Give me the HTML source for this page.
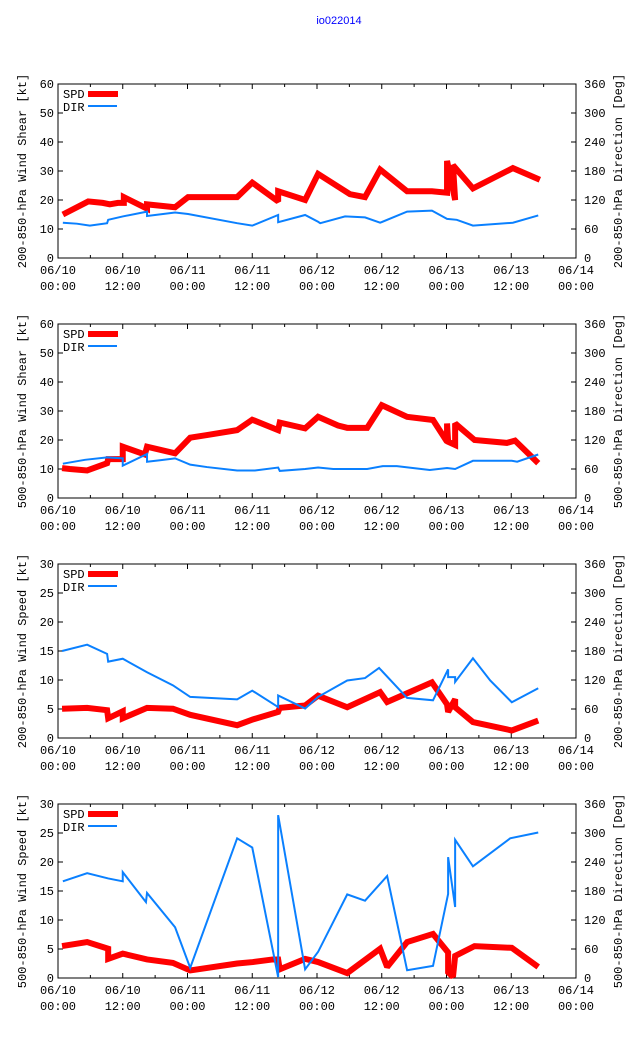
<!DOCTYPE html>
<html><head><meta charset="utf-8"><style>
html,body{margin:0;padding:0;background:#fff;}
svg{display:block;font-family:"Liberation Mono","DejaVu Sans Mono",monospace;}
</style></head><body>
<svg id="c" width="640" height="1060" viewBox="0 0 640 1060">
<text x="339" y="24" fill="#0000ff" font-size="11" font-family="Liberation Sans, sans-serif" text-anchor="middle">io022014</text>
</svg>
<script>
// hours since 06/10 00:00
const p1SpdT=[0.9,5.6,8.3,9.6,11.1,12.2,12.2,16.5,16.5,21.7,24.1,33.2,36.0,40.8,40.8,45.8,48.2,54.1,56.9,59.7,64.7,67.1,69.3,72.1,72.1,73.6,73.2,76.9,84.3,89.3];
const p1SpdV=[15,19.5,19,18.5,19,19,21,17,18.5,17.5,21,21,26,19.5,23,20,29,22,21,30.5,23,23,23,22.5,33.5,20,32,24,31,27];
const p1DirT=[0.9,3.5,5.9,9.1,9.3,12.0,16.5,16.5,21.7,24.1,33.2,36.0,40.8,40.8,45.8,48.2,48.6,53.2,56.9,59.7,64.7,69.3,72.1,73.9,76.9,84.3,89.0];
const p1DirV=[73,71,67,72,79,86,96,87,94,91,72,67,89,74,89,75,72,86,84,73,96,98,81,79,67,73,88];

const p2SpdT=[0.75,2.2,5.4,9.1,9.3,12.0,12.0,16.1,16.5,21.7,24.5,27.6,33.2,36.0,40.8,41.1,45.8,48.2,51.9,53.6,57.3,60.0,64.7,69.5,72.1,72.1,72.3,73.6,73.6,77.2,83.2,84.7,89.0];
const p2SpdV=[10.3,10,9.5,12,13.4,13.4,17.7,15,17.7,15.4,20.8,21.7,23.4,27,23.4,26,24,28,25,24.2,24.2,32,28,26.9,19.4,25.7,19.4,18.3,25.7,20,19,19.8,12];
const p2DirT=[0.9,5.0,9.1,12.0,12.0,16.5,16.5,18.9,21.7,24.5,27.6,33.2,36.5,40.8,41.1,45.8,48.2,51.0,57.3,60.2,62.8,68.9,72.1,73.6,76.9,84.1,85.1,89.0];
const p2DirV=[71,79,84,82,67,91,75,78,82,69,64,57,57,63,56,60,63,60,60,66,66,58,62,60,77,77,75,90];

const p3SpdT=[0.75,5.4,9.1,9.3,12.0,12.0,16.5,21.3,24.5,33.2,36.1,40.8,41.1,45.8,48.2,53.6,59.7,61.0,69.3,72.1,72.3,73.6,73.6,76.9,84.1,89.0];
const p3SpdV=[5.05,5.2,4.8,3.4,4.6,3.4,5.2,5.05,4.0,2.2,3.2,4.5,5.2,5.6,7.3,5.3,7.9,6.2,9.6,5.8,4.5,6.7,5.3,2.75,1.3,3.0];
const p3DirT=[0.75,5.4,9.1,9.3,12.0,16.5,21.3,24.5,33.2,36.0,40.8,40.8,45.8,48.2,53.6,56.9,59.5,64.7,69.5,72.3,72.3,73.6,73.6,76.9,80.1,84.1,89.0];
const p3DirV=[180,193,174,158,164,136,109,85,80,98,64,88,61,85,119,124,145,83,78,142,126,126,116,165,119,74,103];

const p4SpdT=[0.75,5.4,9.3,9.3,12.0,16.5,21.3,24.5,33.2,36.1,39.8,40.8,41.1,45.8,48.2,53.6,59.7,61.0,64.7,69.5,72.3,72.3,73.2,73.6,77.2,84.1,89.0];
const p4SpdV=[5.5,6.2,5.05,3.3,4.2,3.2,2.6,1.3,2.5,2.75,3.2,3.2,1.5,3.3,2.75,0.85,5.05,1.9,6.2,7.6,4.4,1.0,0.2,3.8,5.5,5.2,1.9];
const p4DirT=[0.9,5.4,9.3,12.0,12.0,16.3,16.5,21.7,24.5,33.2,36.0,40.8,40.8,45.8,48.2,53.6,56.9,61.0,64.7,69.5,72.3,72.3,73.6,73.6,76.9,83.8,89.0];
const p4DirV=[200,217,206,200,219,157,176,105,21,289,270,2,337,18,54,173,160,211,16,25,174,250,147,286,231,289,301];

const xTickDates=["06/10","06/10","06/11","06/11","06/12","06/12","06/13","06/13","06/14"];
const xTickTimes=["00:00","12:00","00:00","12:00","00:00","12:00","00:00","12:00","00:00"];
const leftLabels=["200-850-hPa Wind Shear [kt]","500-850-hPa Wind Shear [kt]","200-850-hPa Wind Speed [kt]","500-850-hPa Wind Speed [kt]"];
const rightLabels=["200-850-hPa Direction [Deg]","500-850-hPa Direction [Deg]","200-850-hPa Direction [Deg]","500-850-hPa Direction [Deg]"];
const leftMax=[60,60,30,30];
const leftStep=[10,10,5,5];
const rightTicks=[0,60,120,180,240,300,360];

const panels=[[p1SpdT,p1SpdV,p1DirT,p1DirV],[p2SpdT,p2SpdV,p2DirT,p2DirV],[p3SpdT,p3SpdV,p3DirT,p3DirV],[p4SpdT,p4SpdV,p4DirT,p4DirV]];

const svg=document.getElementById('c');
const NS='http://www.w3.org/2000/svg';
const X0=58,X1=576,H=174,tops=[84,324,564,804];
function xs(h){return X0+(X1-X0)*h/96;}
function mk(tag,attrs,parent){const e=document.createElementNS(NS,tag);for(const k in attrs)e.setAttribute(k,attrs[k]);(parent||svg).appendChild(e);return e;}

panels.forEach((p,i)=>{
  const top=tops[i],bot=top+H;
  const g=mk('g',{});
  
  
  const ys=v=>bot-H*v/leftMax[i];
  const ys2=v=>bot-H*v/360;
  const frame=mk('rect',{x:X0,y:top,width:X1-X0,height:H,fill:'none',stroke:'#000','stroke-width':1},g);
  
  
  for(let v=0;v<=leftMax[i];v+=leftStep[i]){
    const y=ys(v);
    mk('line',{x1:X0,x2:X0+5,y1:y,y2:y,stroke:'#000'},g);
    const t=mk('text',{x:X0-4,y:y+4,'font-size':12,'text-anchor':'end'},g);
    t.textContent=v;
    
    
  }
  rightTicks.forEach(v=>{
    const y=ys2(v);
    mk('line',{x1:X1-5,x2:X1,y1:y,y2:y,stroke:'#000'},g);
    const t=mk('text',{x:X1+8,y:y+4,'font-size':12},g);
    t.textContent=v;
    
    
  });
  for(let h=0;h<=96;h+=6){
    const x=xs(h),major=h%12===0,L=major?5:3;
    mk('line',{x1:x,x2:x,y1:bot,y2:bot-L,stroke:'#000'},g);
    mk('line',{x1:x,x2:x,y1:top,y2:top+L,stroke:'#000'},g);
  }
  xTickDates.forEach((d,k)=>{
    const x=xs(k*12);
    const t1=mk('text',{x:x,y:bot+16,'font-size':12,'text-anchor':'middle'},g);
    t1.textContent=d;
    
    
    const t2=mk('text',{x:x,y:bot+32,'font-size':12,'text-anchor':'middle'},g);
    t2.textContent=xTickTimes[k];
    
    
  });
  const lt=mk('text',{x:0,y:0,'font-size':12,'text-anchor':'middle',transform:`translate(26,${top+H/2}) rotate(-90)`},g);
  lt.textContent=leftLabels[i];
  
  
  const rt=mk('text',{x:0,y:0,'font-size':12,'text-anchor':'middle',transform:`translate(622,${top+H/2}) rotate(-90)`},g);
  rt.textContent=rightLabels[i];
  
  
  const dpts=p[2].map((t,k)=>xs(t)+','+ys2(p[3][k])).join(' ');
  const spts=p[0].map((t,k)=>xs(t)+','+ys(p[1][k])).join(' ');
  const sl=mk('polyline',{points:spts,fill:'none',stroke:'#ff0000','stroke-width':6,'stroke-linejoin':'miter','stroke-miterlimit':2},g);
  
  
  const dl=mk('polyline',{points:dpts,fill:'none',stroke:'#0a80ff','stroke-width':2},g);
  
  
  const l1=mk('text',{x:63,y:top+14,'font-size':12},g);
  l1.textContent='SPD';
  
  
  mk('line',{x1:88,x2:118,y1:top+10,y2:top+10,stroke:'#ff0000','stroke-width':6},g);
  const l2=mk('text',{x:63,y:top+27,'font-size':12},g);
  l2.textContent='DIR';
  
  
  mk('line',{x1:88,x2:117,y1:top+22,y2:top+22,stroke:'#0a80ff','stroke-width':2},g);
});
</script>
</body></html>
